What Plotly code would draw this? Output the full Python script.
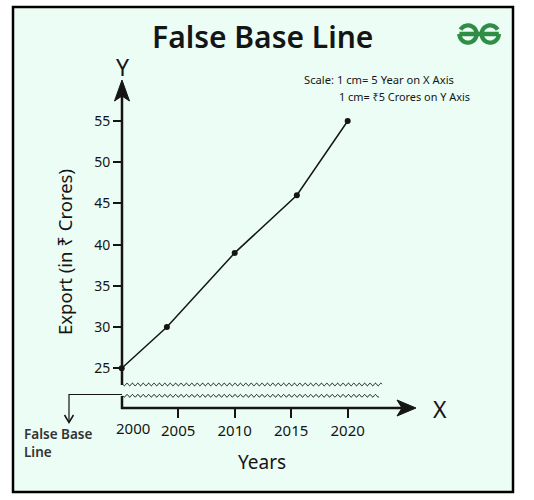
import numpy as np
import plotly.graph_objects as go

# ---- data ----
years = [2000, 2004, 2010, 2015.5, 2020]
exports = [25, 30, 39, 46, 55]
x_tick_vals = [2005, 2010, 2015, 2020]
x_tick_text = ["2005", "2010", "2015", "2020"]
y_tick_vals = [25, 30, 35, 40, 45, 50, 55]
y_tick_text = ["25", "30", "35", "40", "45", "50", "55"]
first_year_label = "2000"

W, H = 534, 500
FONT = "Noto Sans"
INK = "#151515"
MINT = "#ebfdf4"
GREEN = "#2f8d46"

def px(x):
    return x / W

def py(y):
    return 1 - y / H

def P(x, y):
    return f"{px(x):.5f},{py(y):.5f}"

# pixel scale of the axes
X0PIX, XSCALE = 121.7, 11.3      # px for year 2000, px per year
Y0PIX, YSCALE = 368.3, 8.243     # px for value 25, px per unit
XL, XR = 100, 430
YT, YB = 60, 425
xrange_ = [2000 + (XL - X0PIX) / XSCALE, 2000 + (XR - X0PIX) / XSCALE]
yrange_ = [25 - (YB - Y0PIX) / YSCALE, 25 + (Y0PIX - YT) / YSCALE]

fig = go.Figure()
fig.add_trace(go.Scatter(
    x=years, y=exports, mode="lines+markers",
    line=dict(color=INK, width=1.5),
    marker=dict(color=INK, size=6),
    cliponaxis=False, showlegend=False, hoverinfo="x+y",
))

shapes = []
# frame
shapes.append(dict(type="rect", xref="paper", yref="paper",
                   x0=px(13), x1=px(513), y0=py(492), y1=py(7),
                   fillcolor=MINT, line=dict(color="black", width=2.5), layer="below"))
# y axis line (broken)
shapes.append(dict(type="path", xref="paper", yref="paper",
                   path=f"M{P(122, 95)} L{P(122, 385)}",
                   line=dict(color=INK, width=2.5)))
shapes.append(dict(type="path", xref="paper", yref="paper",
                   path=f"M{P(122, 396)} L{P(122, 409)}",
                   line=dict(color=INK, width=2.5)))
# x axis line
shapes.append(dict(type="path", xref="paper", yref="paper",
                   path=f"M{P(121, 408)} L{P(404, 408)}",
                   line=dict(color=INK, width=2.5)))
# arrow heads
shapes.append(dict(type="path", xref="paper", yref="paper",
                   path=f"M{P(122, 80)} L{P(114.5, 101)} L{P(122, 96)} L{P(129.5, 101)} Z",
                   fillcolor=INK, line=dict(color=INK, width=1)))
shapes.append(dict(type="path", xref="paper", yref="paper",
                   path=f"M{P(416, 408)} L{P(397, 400)} L{P(402, 408)} L{P(397, 416)} Z",
                   fillcolor=INK, line=dict(color=INK, width=1)))

# wavy break lines
def wave(y, xa, xb):
    xs = np.linspace(xa, xb, int((xb - xa) * 2))
    ys = y + 1.3 * np.sin((xs - xa) / 5.4 * 2 * np.pi)
    return "M" + " L".join(P(a, b) for a, b in zip(xs, ys))

shapes.append(dict(type="path", xref="paper", yref="paper",
                   path=wave(384.5, 123, 382), line=dict(color=INK, width=1)))
shapes.append(dict(type="path", xref="paper", yref="paper",
                   path=wave(395.8, 123, 379), line=dict(color=INK, width=1)))

# false base line pointer
shapes.append(dict(type="path", xref="paper", yref="paper",
                   path=f"M{P(122, 394.5)} L{P(69, 394.5)} L{P(69, 422)}",
                   line=dict(color=INK, width=1.2)))
shapes.append(dict(type="path", xref="paper", yref="paper",
                   path=f"M{P(64.5, 415)} L{P(69, 422.5)} L{P(73.5, 415)}",
                   line=dict(color=INK, width=1.5)))

# logo (two mirrored G's)
def arc(cx, cy, r, t0, t1, n=60):
    ts = np.radians(np.linspace(t0, t1, n))
    return [(cx + r * np.cos(t), cy - r * np.sin(t)) for t in ts]

r = 8.6
c1, c2, cy = 468.0, 490.2, 34.0
a1 = arc(c1, cy, r, 150, -180)
a2 = arc(c2, cy, r, 30, 360)
for pts in (a1, a2):
    shapes.append(dict(type="path", xref="paper", yref="paper",
                       path="M" + " L".join(P(a, b) for a, b in pts),
                       line=dict(color=GREEN, width=4.3),
                       fillcolor="rgba(0,0,0,0)"))
shapes.append(dict(type="path", xref="paper", yref="paper",
                   path=f"M{P(c1 - r, cy)} L{P(c2 + r, cy)}",
                   line=dict(color=GREEN, width=4.3)))

annotations = [
    dict(text="False Base Line", x=px(262), y=py(37), font=dict(size=30, color=INK, weight=600)),
    dict(text="Scale: 1 cm= 5 Year on X Axis", x=px(302), y=py(79), xanchor="left",
         font=dict(size=11.2, color=INK)),
    dict(text="1 cm= ₹5 Crores on Y Axis", x=px(337), y=py(97), xanchor="left",
         font=dict(size=10.9, color=INK)),
    dict(text="Y", x=px(123), y=py(67), font=dict(size=23, color=INK)),
    dict(text="X", x=px(440), y=py(409), font=dict(size=23, color=INK)),
    dict(text="Export (in ₹ Crores)", x=px(64), y=py(252), textangle=-90,
         font=dict(size=18.5, color=INK)),
    dict(text="Years", x=px(262), y=py(462), font=dict(size=19, color=INK)),
    dict(text="False Base<br>Line", x=px(22), y=py(423), xanchor="left", yanchor="top",
         align="left", font=dict(size=13.5, color="#333333", weight=600)),
    dict(text=first_year_label, x=px(132.5), y=py(428), font=dict(size=15, color=INK)),
]
for a in annotations:
    a.setdefault("xref", "paper")
    a.setdefault("yref", "paper")
    a.setdefault("xanchor", "center")
    a.setdefault("yanchor", "middle")
    a.setdefault("showarrow", False)

fig.update_layout(
    width=W, height=H,
    margin=dict(l=0, r=0, t=0, b=0),
    paper_bgcolor="white",
    plot_bgcolor="rgba(0,0,0,0)",
    font=dict(family=FONT, color=INK),
    shapes=shapes,
    annotations=annotations,
    xaxis=dict(domain=[px(XL), px(XR)], range=xrange_, anchor="free", position=py(408),
               tickvals=x_tick_vals, ticktext=x_tick_text, ticks="outside", ticklen=9,
               tickwidth=2, tickcolor=INK, tickfont=dict(size=15, color=INK),
               showgrid=False, zeroline=False, showline=False, fixedrange=True),
    yaxis=dict(domain=[py(YB), py(YT)], range=yrange_, anchor="free", position=px(122),
               tickvals=y_tick_vals, ticktext=y_tick_text, ticks="outside", ticklen=9,
               tickwidth=2, tickcolor=INK, tickfont=dict(size=14, color=INK),
               showgrid=False, zeroline=False, showline=False, fixedrange=True),
)

fig.write_html("out.html", post_script="document.body.style.margin='0';",
               config={"displayModeBar": False})
